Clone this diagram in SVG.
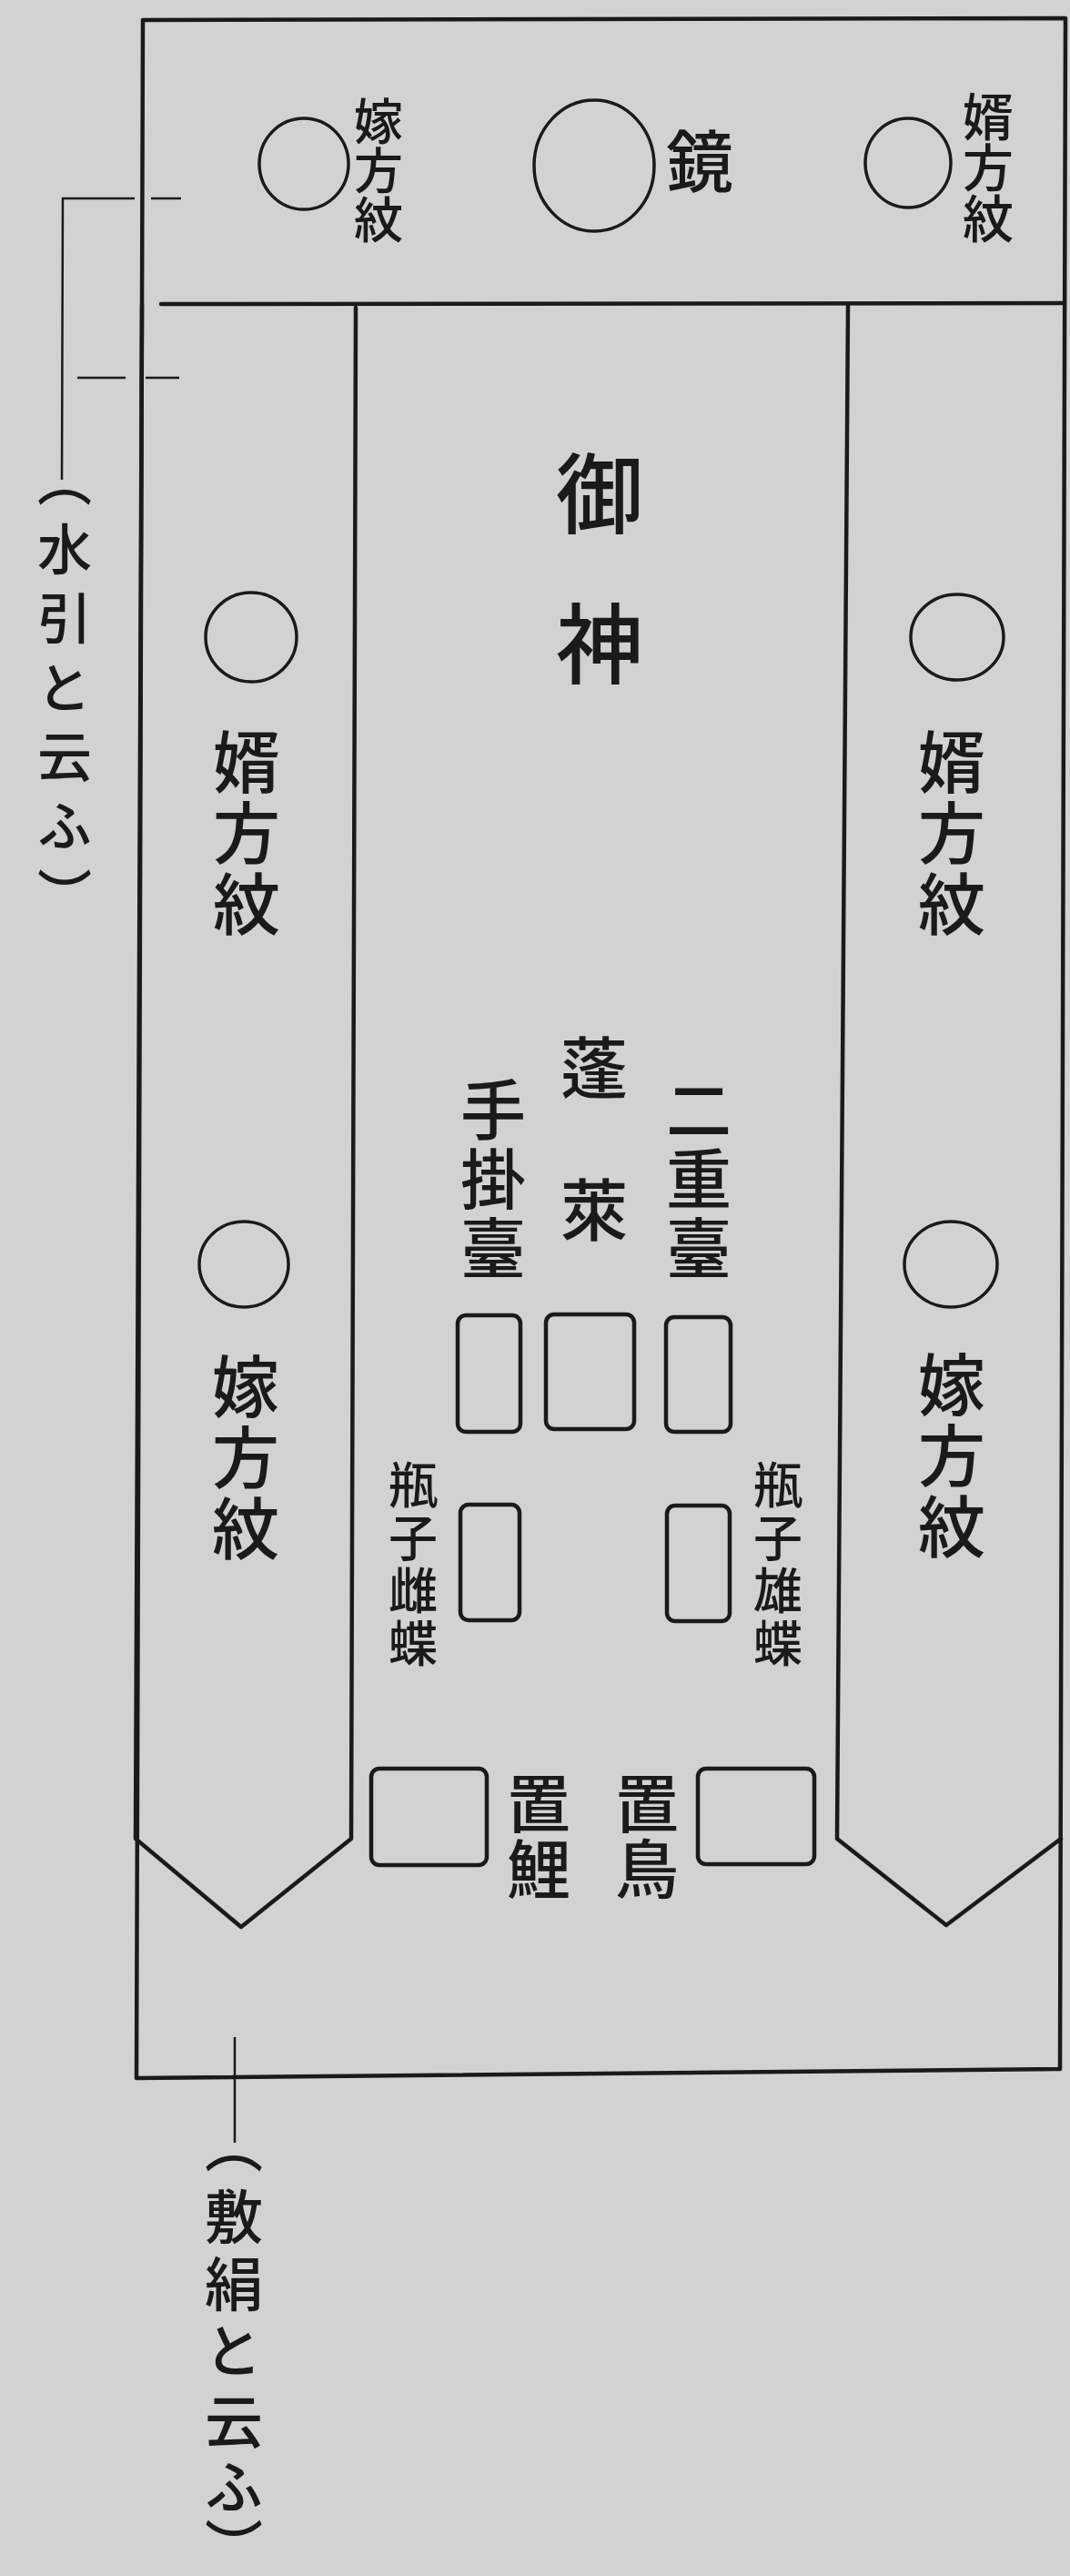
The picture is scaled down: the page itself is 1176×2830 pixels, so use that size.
<svg xmlns="http://www.w3.org/2000/svg" width="1176" height="2830" viewBox="0 0 1176 2830">
<style>
.ln{fill:none;stroke:#1a1a1a;stroke-width:4.5;stroke-linejoin:round;stroke-linecap:round}
.ci{fill:none;stroke:#1a1a1a;stroke-width:3.5}
.bx{fill:none;stroke:#1a1a1a;stroke-width:4.5}
.thin{fill:none;stroke:#1a1a1a;stroke-width:2.5}
.v{font-family:"Noto Sans CJK JP","Noto Sans CJK SC",sans-serif;writing-mode:vertical-rl;fill:#1a1a1a;font-weight:500}
</style>
<rect x="0" y="0" width="1176" height="2830" fill="#d2d2d2"/>
<g id="frame">
<path class="ln" d="M157,22 L1171,20 L1165,2273 L150,2283 Z"/>
<path class="ln" d="M177,334 L1170,333"/>
</g>
<g id="strip-left">
<path class="ln" d="M156,335 L149,2020 L265,2117 L386,2020 L391,338"/>
</g>
<g id="strip-right">
<path class="ln" d="M932,335 L920,2020 L1040,2115 L1166,2020"/>
</g>
<g id="mon-yome-top">
<ellipse class="ci" cx="334" cy="180" rx="49" ry="50"/>
<text class="v" x="416" y="106" font-size="54">嫁方紋</text>
</g>
<g id="kagami">
<ellipse class="ci" cx="653" cy="182" rx="66" ry="72"/>
<text class="v" x="769" y="140" font-size="74">鏡</text>
</g>
<g id="mon-muko-top">
<ellipse class="ci" cx="998" cy="179" rx="47" ry="49"/>
<text class="v" x="1086" y="100" font-size="56">婿方紋</text>
</g>
<g id="gojin">
<text class="v" x="659" y="494" font-size="96" letter-spacing="69">御神</text>
</g>
<g id="mon-muko-left">
<ellipse class="ci" cx="276" cy="700" rx="50" ry="49"/>
<text class="v" x="271" y="800" font-size="74" letter-spacing="4">婿方紋</text>
</g>
<g id="mon-yome-left">
<ellipse class="ci" cx="268" cy="1389" rx="49" ry="47"/>
<text class="v" x="270" y="1486" font-size="74" letter-spacing="4">嫁方紋</text>
</g>
<g id="mon-muko-right">
<ellipse class="ci" cx="1052" cy="700" rx="51" ry="47"/>
<text class="v" x="1046" y="800" font-size="74" letter-spacing="4">婿方紋</text>
</g>
<g id="mon-yome-right">
<ellipse class="ci" cx="1045" cy="1389" rx="51" ry="47"/>
<text class="v" x="1046" y="1484" font-size="74" letter-spacing="4">嫁方紋</text>
</g>
<g id="horai">
<text class="v" x="653" y="1136" font-size="74" letter-spacing="82">蓬萊</text>
<rect class="bx" x="600" y="1444" width="97" height="126" rx="9"/>
</g>
<g id="tekakedai">
<text class="v" x="542" y="1183" font-size="72" letter-spacing="4">手掛臺</text>
<rect class="bx" x="503" y="1445" width="69" height="128" rx="9"/>
</g>
<g id="nijudai">
<text class="v" x="768" y="1183" font-size="72" letter-spacing="4">二重臺</text>
<rect class="bx" x="732" y="1447" width="71" height="126" rx="9"/>
</g>
<g id="heishi-mecho">
<text class="v" x="454" y="1604" font-size="54" letter-spacing="4">瓶子雌蝶</text>
<rect class="bx" x="506" y="1653" width="65" height="127" rx="9"/>
</g>
<g id="heishi-ocho">
<text class="v" x="855" y="1604" font-size="54" letter-spacing="4">瓶子雄蝶</text>
<rect class="bx" x="733" y="1654" width="69" height="127" rx="9"/>
</g>
<g id="okigoi">
<rect class="bx" x="408" y="1943" width="127" height="106" rx="9"/>
<text class="v" x="592" y="1946" font-size="70" letter-spacing="2">置鯉</text>
</g>
<g id="okidori">
<rect class="bx" x="767" y="1943" width="128" height="105" rx="9"/>
<text class="v" x="711" y="1946" font-size="70" letter-spacing="2">置鳥</text>
</g>
<g id="label-mizuhiki">
<text class="v" x="71" y="497" font-size="60" letter-spacing="16">（水引と云ふ）</text>
</g>
<g id="label-shikiginu">
<text class="v" x="257" font-size="64"><tspan y="2324">（</tspan><tspan y="2403">敷</tspan><tspan y="2477">絹</tspan><tspan y="2550">と</tspan><tspan y="2628">云</tspan><tspan y="2700">ふ</tspan><tspan y="2766">）</tspan></text>
</g>
<g id="connectors">
<path class="thin" d="M68,527 L69,218 L148,218"/>
<path class="thin" d="M166,218 L199,218"/>
<path class="thin" d="M85,415 L138,415"/>
<path class="thin" d="M160,415 L197,415"/>
<path class="thin" d="M258,2238 L258,2354"/>
</g>
</svg>
